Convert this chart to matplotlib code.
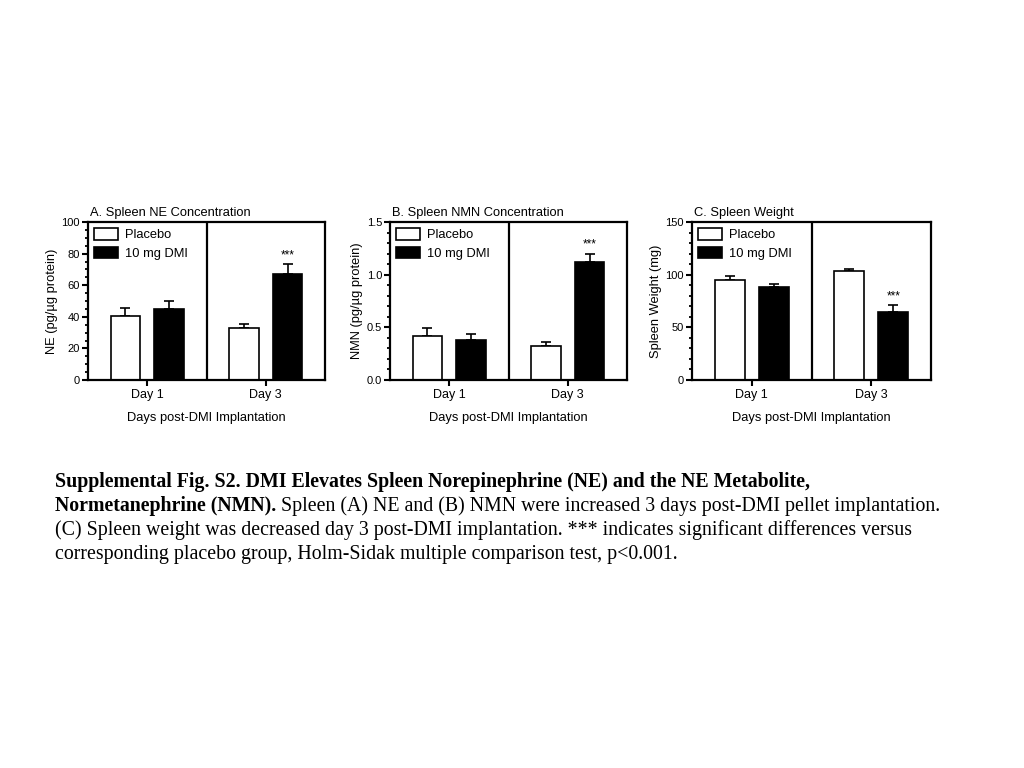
import numpy as np
import matplotlib.pyplot as plt
from matplotlib.ticker import MultipleLocator
from matplotlib.patches import Patch

plt.rcParams['font.family'] = ['Liberation Sans', 'DejaVu Sans']

days = ['Day 1', 'Day 3']

# panel A: spleen NE (pg/ug protein)
ne_placebo = [40.2, 33.0]
ne_placebo_err = [5.1, 2.2]
ne_dmi = [44.8, 67.4]
ne_dmi_err = [5.5, 5.9]

# panel B: spleen NMN (pg/ug protein)
nmn_placebo = [0.417, 0.322]
nmn_placebo_err = [0.079, 0.035]
nmn_dmi = [0.382, 1.121]
nmn_dmi_err = [0.057, 0.079]

# panel C: spleen weight (mg)
wt_placebo = [95.4, 103.2]
wt_placebo_err = [3.1, 2.2]
wt_dmi = [88.2, 65.0]
wt_dmi_err = [3.1, 6.2]

# which Day-3 DMI bar gets the *** mark (index into days)
sig_idx = [1, 1, 1]

titles = ['A. Spleen NE Concentration', 'B. Spleen NMN Concentration', 'C. Spleen Weight']
ylabels = ['NE (pg/\u00b5g protein)', 'NMN (pg/\u00b5g protein)', 'Spleen Weight (mg)']

fig = plt.figure(figsize=(10.24, 7.68), dpi=100)
W, H = 1024, 768

def px_axes(x0, x1, ytop, ybot):
    return fig.add_axes([x0 / W, 1 - ybot / H, (x1 - x0) / W, (ybot - ytop) / H])

panels = [
    (88, 325, ne_placebo, ne_placebo_err, ne_dmi, ne_dmi_err, 100, 20, 5, '%d'),
    (390, 627, nmn_placebo, nmn_placebo_err, nmn_dmi, nmn_dmi_err, 1.5, 0.5, 0.1, '%.1f'),
    (692, 931, wt_placebo, wt_placebo_err, wt_dmi, wt_dmi_err, 150, 50, 10, '%d'),
]

x = np.arange(len(days))
bw = 0.25
off = 0.185

for i, (x0, x1, pl, ple, dm, dme, ymax, major, minor, fmt) in enumerate(panels):
    ax = px_axes(x0, x1, 222, 380)
    ax.bar(x - off, pl, bw, color='white', edgecolor='black', linewidth=1.2, zorder=2)
    ax.bar(x + off, dm, bw, color='black', edgecolor='black', linewidth=1.2, zorder=2)
    ax.errorbar(x - off, pl, yerr=[np.zeros(len(pl)), ple], fmt='none', ecolor='black',
                elinewidth=1.2, capsize=3.6, capthick=1.2, zorder=1)
    ax.errorbar(x + off, dm, yerr=[np.zeros(len(dm)), dme], fmt='none', ecolor='black',
                elinewidth=1.2, capsize=3.6, capthick=1.2, zorder=1)
    j = sig_idx[i]
    ax.annotate('***', xy=(x[j] + off, dm[j] + dme[j]), xytext=(0, 2),
                textcoords='offset points', ha='center', va='bottom', fontsize=8.5)
    ax.axvline(0.5, color='black', linewidth=1.6)
    ax.set_xlim(-0.5, 1.5)
    ax.set_ylim(0, ymax)
    ax.yaxis.set_major_locator(MultipleLocator(major))
    ax.yaxis.set_minor_locator(MultipleLocator(minor))
    ax.yaxis.set_major_formatter(plt.FormatStrFormatter(fmt))
    ax.set_xticks(x)
    ax.set_xticklabels(days)
    ax.tick_params(axis='y', which='major', direction='out', length=4.5, width=1.5,
                   labelsize=8, pad=1.2)
    ax.tick_params(axis='x', which='major', direction='out', length=4.5, width=1.5,
                   labelsize=9, pad=2)
    ax.tick_params(axis='y', which='minor', direction='out', length=2.5, width=1.3)
    for s in ax.spines.values():
        s.set_linewidth(1.6)
    ax.set_title(titles[i], loc='left', fontsize=9.3, pad=4, x=0.01)
    ax.set_ylabel(ylabels[i], fontsize=9.3, labelpad=2.5)
    ax.set_xlabel('Days post-DMI Implantation', fontsize=9.3, labelpad=8)
    handles = [Patch(facecolor='white', edgecolor='black', linewidth=1.2, label='Placebo'),
               Patch(facecolor='black', edgecolor='black', linewidth=1.2, label='10 mg DMI')]
    ax.legend(handles=handles, loc='upper left', frameon=False, fontsize=9.3,
              handlelength=1.8, handleheight=0.95, handletextpad=0.6, labelspacing=0.4,
              borderaxespad=0.3, borderpad=0.2)

# caption
serif = ['Liberation Serif', 'DejaVu Serif']
cfs = 14.3
renderer = fig.canvas.get_renderer()
x0 = 55 / W
base = [487, 511, 535, 559]
fig.text(x0, 1 - base[0] / H,
         'Supplemental Fig. S2. DMI Elevates Spleen Norepinephrine (NE) and the NE Metabolite,',
         family=serif, fontsize=cfs, weight='bold', va='baseline')
tb = fig.text(x0, 1 - base[1] / H, 'Normetanephrine (NMN).',
              family=serif, fontsize=cfs, weight='bold', va='baseline')
bb = tb.get_window_extent(renderer)
fig.text(bb.x1 / fig.bbox.width, 1 - base[1] / H,
         ' Spleen (A) NE and (B) NMN were increased 3 days post-DMI pellet implantation.',
         family=serif, fontsize=cfs, va='baseline')
fig.text(x0, 1 - base[2] / H,
         '(C) Spleen weight was decreased day 3 post-DMI implantation. *** indicates significant differences versus',
         family=serif, fontsize=cfs, va='baseline')
fig.text(x0, 1 - base[3] / H,
         'corresponding placebo group, Holm-Sidak multiple comparison test, p<0.001.',
         family=serif, fontsize=cfs, va='baseline')

fig.savefig('out.png', dpi=100, facecolor='white')
